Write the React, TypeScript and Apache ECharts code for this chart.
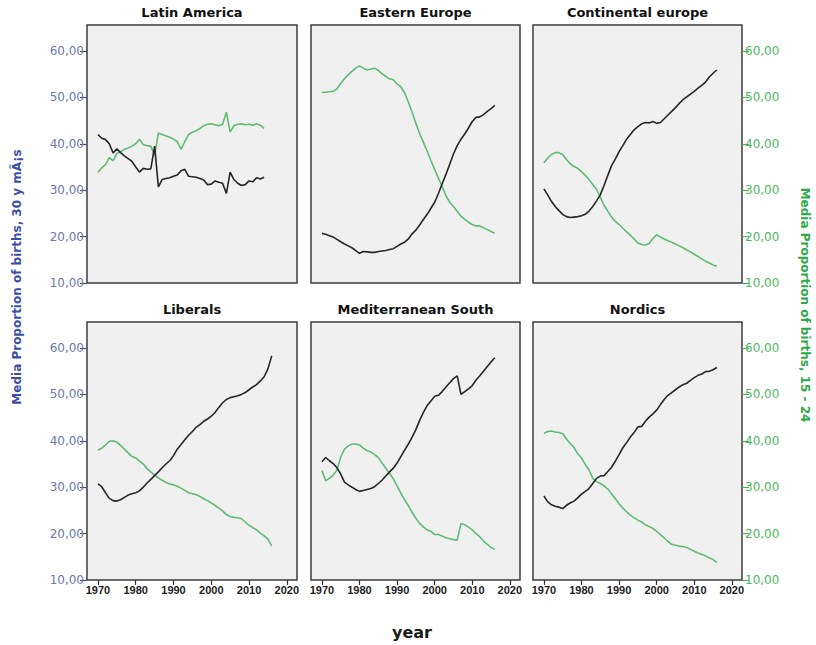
import React, { useEffect, useRef } from 'react';
import * as echarts from 'echarts';

const YEARS = [
  1970, 1971, 1972, 1973, 1974, 1975, 1976, 1977, 1978, 1979,
  1980, 1981, 1982, 1983, 1984, 1985, 1986, 1987, 1988, 1989,
  1990, 1991, 1992, 1993, 1994, 1995, 1996, 1997, 1998, 1999,
  2000, 2001, 2002, 2003, 2004, 2005, 2006, 2007, 2008, 2009,
  2010, 2011, 2012, 2013, 2014, 2015, 2016,
];

const PANEL_TITLES = ['Latin America', 'Eastern Europe', 'Continental europe', 'Liberals', 'Mediterranean South', 'Nordics'];
const Y_TICKS = [10, 20, 30, 40, 50, 60];
const X_TICKS = [1970, 1980, 1990, 2000, 2010, 2020];

// black: 30 y más ; green: 15 - 24
const LA_OLD = [42.0, 41.2, 40.9, 40.0, 38.0, 38.9, 38.1, 37.4, 36.8, 36.2, 35.0, 33.9, 34.7, 34.5, 34.6, 39.5, 30.7, 32.3, 32.5, 32.7, 33.0, 33.3, 34.2, 34.5, 33.0, 32.9, 32.8, 32.5, 32.2, 31.2, 31.3, 32.0, 31.7, 31.5, 29.3, 33.9, 32.3, 31.5, 31.0, 31.2, 32.0, 31.8, 32.7, 32.4, 32.8];
const LA_YOUNG = [33.9, 34.8, 35.5, 37.0, 36.3, 37.9, 38.3, 38.8, 39.1, 39.5, 40.0, 41.0, 39.8, 39.6, 39.5, 37.5, 42.3, 42.0, 41.7, 41.4, 41.0, 40.5, 38.8, 40.5, 42.0, 42.5, 42.8, 43.3, 43.9, 44.2, 44.3, 44.1, 43.9, 44.2, 46.8, 42.5, 43.9, 44.2, 44.3, 44.1, 44.2, 44.0, 44.3, 44.0, 43.3];

const EE_OLD = [20.7, 20.5, 20.2, 19.9, 19.4, 18.9, 18.4, 18.0, 17.6, 17.0, 16.4, 16.8, 16.7, 16.6, 16.6, 16.8, 16.9, 17.0, 17.2, 17.4, 17.9, 18.4, 18.8, 19.5, 20.6, 21.4, 22.5, 23.7, 24.8, 26.1, 27.4, 29.3, 31.4, 33.4, 35.6, 37.8, 39.6, 41.0, 42.1, 43.4, 44.8, 45.7, 45.8, 46.3, 47.0, 47.6, 48.3];
const EE_YOUNG = [51.1, 51.1, 51.2, 51.3, 51.8, 53.0, 54.0, 54.9, 55.6, 56.3, 56.8, 56.3, 55.9, 56.1, 56.3, 55.8, 55.1, 54.5, 54.0, 53.8, 52.9, 52.3, 51.0, 49.0, 46.8, 44.4, 42.2, 40.3, 38.4, 36.4, 34.5, 32.6, 30.8, 28.8, 27.4, 26.5, 25.4, 24.4, 23.7, 23.1, 22.6, 22.3, 22.3, 21.9, 21.5, 21.1, 20.7];

const CE_OLD = [30.3, 29.0, 27.6, 26.5, 25.6, 24.8, 24.3, 24.1, 24.2, 24.3, 24.5, 24.8, 25.5, 26.5, 27.7, 29.0, 31.0, 33.2, 35.3, 36.7, 38.3, 39.6, 41.0, 42.0, 43.0, 43.7, 44.3, 44.6, 44.5, 44.8, 44.4, 44.6, 45.4, 46.2, 47.0, 47.8, 48.7, 49.5, 50.1, 50.7, 51.3, 52.0, 52.6, 53.3, 54.4, 55.2, 55.9];
const CE_YOUNG = [35.9, 36.9, 37.7, 38.1, 38.1, 37.7, 36.6, 35.7, 35.1, 34.7, 34.0, 33.2, 32.3, 31.2, 30.2, 28.5, 26.7, 25.5, 24.2, 23.3, 22.6, 21.8, 21.0, 20.3, 19.5, 18.6, 18.3, 18.2, 18.5, 19.6, 20.4, 19.9, 19.5, 19.1, 18.8, 18.4, 18.0, 17.6, 17.1, 16.7, 16.2, 15.7, 15.2, 14.7, 14.3, 13.9, 13.6];

const LIB_OLD = [30.7, 30.1, 28.8, 27.6, 27.1, 27.0, 27.3, 27.8, 28.3, 28.6, 28.8, 29.2, 30.0, 30.9, 31.7, 32.5, 33.3, 34.2, 35.0, 35.7, 36.8, 38.2, 39.2, 40.2, 41.2, 42.0, 42.9, 43.5, 44.2, 44.7, 45.3, 46.1, 47.2, 48.2, 48.9, 49.3, 49.5, 49.7, 50.0, 50.4, 51.0, 51.6, 52.1, 52.9, 53.8, 55.5, 58.3];
const LIB_YOUNG = [38.0, 38.4, 39.1, 39.9, 40.0, 39.7, 39.0, 38.2, 37.4, 36.6, 36.3, 35.6, 35.0, 34.0, 33.3, 32.6, 32.0, 31.5, 31.0, 30.7, 30.5, 30.2, 29.8, 29.3, 28.8, 28.6, 28.4, 28.0, 27.5, 27.1, 26.6, 26.1, 25.5, 24.9, 24.1, 23.7, 23.5, 23.4, 23.2, 22.5, 21.8, 21.3, 20.8, 20.1, 19.5, 18.8, 17.3];

const MS_OLD = [35.5, 36.4, 35.7, 35.1, 34.2, 32.8, 31.1, 30.5, 30.0, 29.5, 29.1, 29.3, 29.5, 29.7, 30.1, 30.8, 31.5, 32.4, 33.3, 34.1, 35.2, 36.6, 38.0, 39.3, 40.8, 42.4, 44.4, 46.1, 47.6, 48.6, 49.6, 49.8, 50.6, 51.6, 52.5, 53.4, 54.0, 50.0, 50.6, 51.2, 51.9, 53.1, 54.0, 55.0, 56.0, 57.0, 57.9];
const MS_YOUNG = [33.6, 31.4, 31.9, 32.6, 33.7, 36.5, 38.2, 38.9, 39.3, 39.3, 39.1, 38.4, 37.9, 37.6, 37.0, 36.4, 35.2, 34.1, 33.0, 31.8, 30.3, 28.7, 27.3, 26.0, 24.6, 23.3, 22.2, 21.4, 20.8, 20.5, 19.8, 19.8, 19.5, 19.1, 18.9, 18.7, 18.6, 22.2, 21.9, 21.4, 20.8, 20.0, 19.3, 18.4, 17.7, 17.0, 16.6];

const NOR_OLD = [28.1, 26.9, 26.2, 25.9, 25.7, 25.4, 26.1, 26.6, 27.0, 27.7, 28.5, 29.1, 29.7, 30.8, 31.9, 32.4, 32.5, 33.4, 34.3, 35.6, 37.0, 38.5, 39.6, 40.8, 41.8, 43.0, 43.1, 44.2, 45.1, 45.8, 46.6, 47.8, 48.9, 49.8, 50.4, 51.0, 51.6, 52.1, 52.4, 53.0, 53.6, 54.1, 54.4, 54.9, 55.0, 55.3, 55.8];
const NOR_YOUNG = [41.6, 42.0, 42.1, 41.9, 41.8, 41.5, 40.4, 39.4, 38.6, 37.2, 36.3, 34.9, 33.7, 31.9, 31.2, 30.8, 30.3, 29.6, 28.6, 27.5, 26.4, 25.5, 24.7, 24.0, 23.4, 22.9, 22.5, 21.9, 21.5, 21.1, 20.5, 19.8, 19.1, 18.3, 17.7, 17.5, 17.3, 17.2, 17.0, 16.6, 16.2, 15.8, 15.5, 15.2, 14.8, 14.4, 13.8];

const PANEL_OLD = [LA_OLD, EE_OLD, CE_OLD, LIB_OLD, MS_OLD, NOR_OLD];
const PANEL_YOUNG = [LA_YOUNG, EE_YOUNG, CE_YOUNG, LIB_YOUNG, MS_YOUNG, NOR_YOUNG];

const COLS = [
  { left: 87, width: 210 },
  { left: 311, width: 209 },
  { left: 533, width: 209 },
];
const ROWS = [
  { top: 25, height: 258 },
  { top: 322, height: 258 },
];

const FONT = '"DejaVu Sans", "Liberation Sans", Arial, sans-serif';
const BLACK = '#262626';
const GREEN = '#62bb72';

const pairs = (vals: number[]) => vals.map((v, i) => [YEARS[i], v]);
const fmt = (v: number) => v.toFixed(2).replace('.', ',');

export default function App() {
  const ref = useRef<HTMLDivElement>(null);

  useEffect(() => {
    document.body.style.margin = '0';
    if (!ref.current) return;
    const chart = echarts.init(ref.current, null, { renderer: 'svg' });

    const grids: any[] = [];
    const xAxes: any[] = [];
    const yAxes: any[] = [];
    const series: any[] = [];
    const graphics: any[] = [];

    for (let i = 0; i < 6; i++) {
      const r = Math.floor(i / 3);
      const c = i % 3;
      const col = COLS[c];
      const row = ROWS[r];
      grids.push({
        left: col.left,
        top: row.top,
        width: col.width,
        height: row.height,
        show: true,
        backgroundColor: '#f0f0f0',
        borderColor: '#3c3c3c',
        borderWidth: 1.5,
      });
      const bottomRow = r === 1;
      xAxes.push({
        type: 'value',
        gridIndex: i,
        min: 1967.1,
        max: 2022.7,
        axisLine: { show: false },
        splitLine: { show: false },
        axisTick: {
          show: bottomRow,
          customValues: X_TICKS,
          length: 5,
          lineStyle: { color: '#333', width: 1.2 },
        },
        axisLabel: {
          show: bottomRow,
          customValues: X_TICKS,
          formatter: (v: number) => String(v),
          color: '#222',
          fontSize: 11,
          fontWeight: 'bold',
          fontFamily: '"Liberation Sans", Arial, sans-serif',
          margin: 4,
        },
      });
      const hasLeft = c === 0;
      const hasRight = c === 2;
      yAxes.push({
        type: 'value',
        gridIndex: i,
        min: 10,
        max: 65.6,
        position: hasRight ? 'right' : 'left',
        axisLine: { show: false },
        splitLine: { show: false },
        axisTick: {
          show: hasLeft || hasRight,
          customValues: Y_TICKS,
          length: 7,
          lineStyle: { color: hasRight ? '#5aa868' : '#4a4f66', width: 1.2 },
        },
        axisLabel: {
          show: hasLeft || hasRight,
          customValues: Y_TICKS,
          formatter: (v: number) => fmt(v),
          color: hasRight ? '#4cb85e' : '#6a78ad',
          fontSize: 12,
          fontFamily: FONT,
          margin: 3,
        },
      });
      series.push({
        type: 'line',
        name: 'Media Proportion of births, 30 y mÃ¡s',
        xAxisIndex: i,
        yAxisIndex: i,
        data: pairs(PANEL_OLD[i]),
        showSymbol: false,
        symbol: 'none',
        lineStyle: { color: BLACK, width: 1.6 },
        itemStyle: { color: BLACK },
        z: 3,
      });
      series.push({
        type: 'line',
        name: 'Media Proportion of births, 15 - 24',
        xAxisIndex: i,
        yAxisIndex: i,
        data: pairs(PANEL_YOUNG[i]),
        showSymbol: false,
        symbol: 'none',
        lineStyle: { color: GREEN, width: 1.6 },
        itemStyle: { color: GREEN },
        z: 2,
      });
      graphics.push({
        type: 'text',
        x: col.left + col.width / 2,
        y: row.top - 13,
        style: {
          text: PANEL_TITLES[i],
          align: 'center',
          verticalAlign: 'middle',
          textAlign: 'center',
          textVerticalAlign: 'middle',
          fontSize: 13,
          fontWeight: 'bold',
          fontFamily: FONT,
          fill: '#111',
        },
      });
    }

    graphics.push({
      type: 'text',
      x: 17,
      y: 277,
      rotation: Math.PI / 2,
      style: {
        text: 'Media Proportion of births, 30 y mÃ¡s',
        align: 'center',
        verticalAlign: 'middle',
        textAlign: 'center',
        textVerticalAlign: 'middle',
        fontSize: 12,
        fontWeight: 'bold',
        fontFamily: FONT,
        fill: '#3b4fa6',
      },
    });
    graphics.push({
      type: 'text',
      x: 805,
      y: 305,
      rotation: -Math.PI / 2,
      style: {
        text: 'Media Proportion of births, 15 - 24',
        align: 'center',
        verticalAlign: 'middle',
        textAlign: 'center',
        textVerticalAlign: 'middle',
        fontSize: 12,
        fontWeight: 'bold',
        fontFamily: FONT,
        fill: '#2fa84a',
      },
    });
    graphics.push({
      type: 'text',
      x: 412,
      y: 632,
      style: {
        text: 'year',
        align: 'center',
        verticalAlign: 'middle',
        textAlign: 'center',
        textVerticalAlign: 'middle',
        fontSize: 16,
        fontWeight: 'bold',
        fontFamily: FONT,
        fill: '#1a1a1a',
      },
    });

    chart.setOption({
      animation: false,
      backgroundColor: '#ffffff',
      grid: grids,
      xAxis: xAxes,
      yAxis: yAxes,
      series,
      graphic: graphics,
    });

    return () => chart.dispose();
  }, []);

  return <div ref={ref} style={{ width: 816, height: 645 }} />;
}
